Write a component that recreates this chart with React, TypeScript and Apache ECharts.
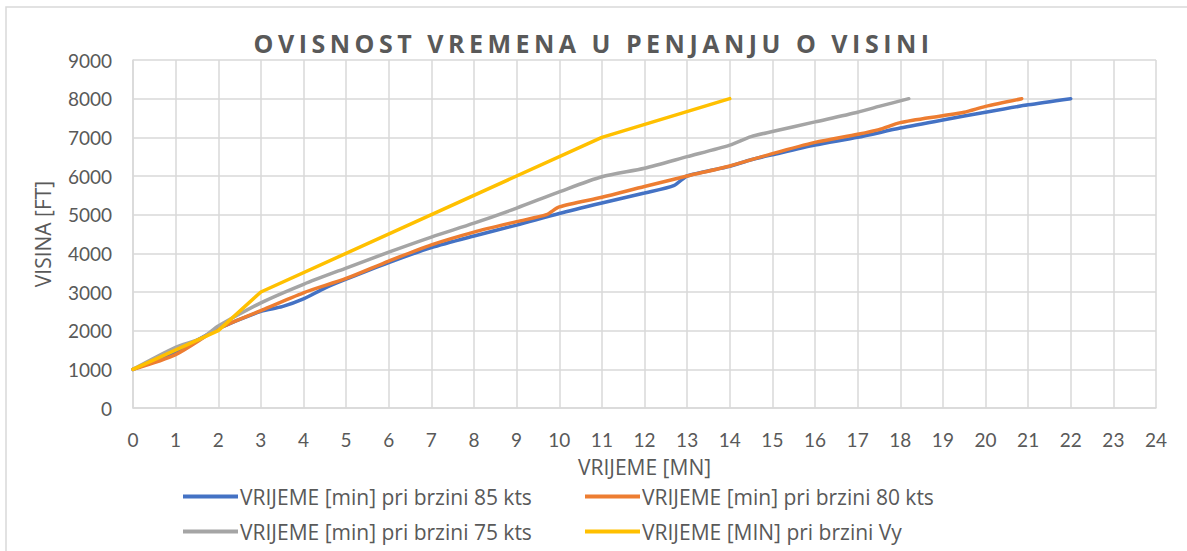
import React, { useEffect, useRef } from "react";
import * as echarts from "echarts";

const TITLE = "OVISNOST VREMENA U PENJANJU O VISINI";
const X_NAME = "VRIJEME [MN]";
const Y_NAME = "VISINA [FT]";
const SERIES_NAMES = [
  "VRIJEME [min] pri brzini 85 kts",
  "VRIJEME [min] pri brzini 80 kts",
  "VRIJEME [min] pri brzini 75 kts",
  "VRIJEME [MIN] pri brzini Vy",
];
const COLORS = ["#4472C4", "#ED7D31", "#A5A5A5", "#FFC000"];

// [time (min), altitude (ft)]
const speed85: [number, number][] = [
  [0, 1000], [1, 1450], [2, 2050], [3, 2500], [3.5, 2620], [4, 2820], [4.5, 3100],
  [5, 3330], [6, 3760], [7, 4150], [8, 4450], [9, 4730], [10, 5030], [11, 5300],
  [12, 5560], [12.7, 5760], [13, 6000], [14, 6250], [14.5, 6420], [15, 6550],
  [16, 6800], [17, 7000], [18, 7240], [19, 7450], [20, 7650], [21, 7840], [22, 8000],
];
const speed80: [number, number][] = [
  [0, 1000], [1, 1380], [2, 2050], [3, 2520], [4, 2980], [5, 3350], [6, 3800],
  [7, 4220], [8, 4550], [9, 4820], [9.7, 5000], [10, 5200], [11, 5450], [12, 5730],
  [13, 6000], [14, 6260], [15, 6580], [16, 6870], [17, 7080], [17.5, 7200],
  [18, 7380], [19, 7560], [19.5, 7650], [20, 7800], [20.85, 8000],
];
const speed75: [number, number][] = [
  [0, 1000], [1, 1570], [1.6, 1800], [2, 2120], [3, 2720], [4, 3200], [5, 3620],
  [6, 4030], [7, 4420], [8, 4780], [9, 5170], [10, 5590], [11, 5980], [12, 6200],
  [13, 6500], [14, 6800], [14.5, 7020], [15, 7150], [16, 7400], [17, 7650],
  [17.5, 7800], [18.2, 8000],
];
const speedVy: [number, number][] = [
  [0, 1000], [2, 2000], [3, 3000], [11, 7000], [14, 8000],
];
const SERIES_DATA = [speed85, speed80, speed75, speedVy];
const SMOOTH = [0.25, 0.25, 0.25, false];

const FONT = "Lato";
const FONT2 = "Open Sans";
const TEXT_COLOR = "#595959";

export default function App() {
  const ref = useRef<HTMLDivElement>(null);
  useEffect(() => {
    if (!ref.current) return;
    const chart = echarts.init(ref.current, undefined, { renderer: "svg" });
    const legendBase = {
      orient: "vertical" as const,
      top: 486,
      padding: 0,
      icon: "rect",
      itemWidth: 55,
      itemHeight: 4,
      itemGap: 14,
      textStyle: { color: TEXT_COLOR, fontSize: 21, fontFamily: FONT2, padding: [0, 0, 0, -3] },
    };
    chart.setOption({
      animation: false,
      backgroundColor: "#ffffff",
      title: {
        text: TITLE,
        left: "center",
        top: 25,
        textStyle: { color: TEXT_COLOR, fontSize: 25, fontWeight: "bold", fontFamily: FONT2 },
      },
      graphic: [
        {
          type: "rect",
          shape: { x: 6, y: 7, width: 1300, height: 700 },
          style: { fill: "none", stroke: "#d9d9d9", lineWidth: 1.5 },
          silent: true,
        },
      ],
      legend: [
        { ...legendBase, left: 183, data: [SERIES_NAMES[0], SERIES_NAMES[2]] },
        { ...legendBase, left: 585, data: [SERIES_NAMES[1], SERIES_NAMES[3]] },
      ],
      grid: { left: 133, right: 31, top: 60, bottom: 143 },
      xAxis: {
        type: "value",
        min: 0,
        max: 24,
        interval: 1,
        name: X_NAME,
        nameLocation: "middle",
        nameGap: 48,
        nameTextStyle: { color: TEXT_COLOR, fontSize: 21, fontFamily: FONT2 },
        axisLine: { show: true, lineStyle: { color: "#d9d9d9", width: 1.5 } },
        axisTick: { show: false },
        axisLabel: { color: TEXT_COLOR, fontSize: 19, fontFamily: FONT, margin: 22 },
        splitLine: { show: true, lineStyle: { color: "#d9d9d9", width: 1.5 } },
      },
      yAxis: {
        type: "value",
        min: 0,
        max: 9000,
        interval: 1000,
        name: Y_NAME,
        nameLocation: "middle",
        nameGap: 80,
        nameTextStyle: { color: TEXT_COLOR, fontSize: 21, fontFamily: FONT2 },
        axisLine: { show: true, lineStyle: { color: "#d9d9d9", width: 1.5 } },
        axisTick: { show: false },
        axisLabel: {
          color: TEXT_COLOR,
          fontSize: 19,
          fontFamily: FONT,
          margin: 21,
          formatter: (v: number) => String(v),
        },
        splitLine: { show: true, lineStyle: { color: "#d9d9d9", width: 1.5 } },
      },
      series: SERIES_DATA.map((d, i) => ({
        name: SERIES_NAMES[i],
        type: "line",
        data: d,
        smooth: SMOOTH[i],
        symbol: "none",
        color: COLORS[i],
        lineStyle: { color: COLORS[i], width: 3.5, cap: "round" },
      })),
    });
    return () => chart.dispose();
  }, []);
  return (
    <>
      <style>{`svg text[style*="bold"] { letter-spacing: 4.5px; }`}</style>
      <div
        ref={ref}
        style={{ position: "fixed", left: 0, top: 0, width: 1187, height: 551 }}
      />
    </>
  );
}
